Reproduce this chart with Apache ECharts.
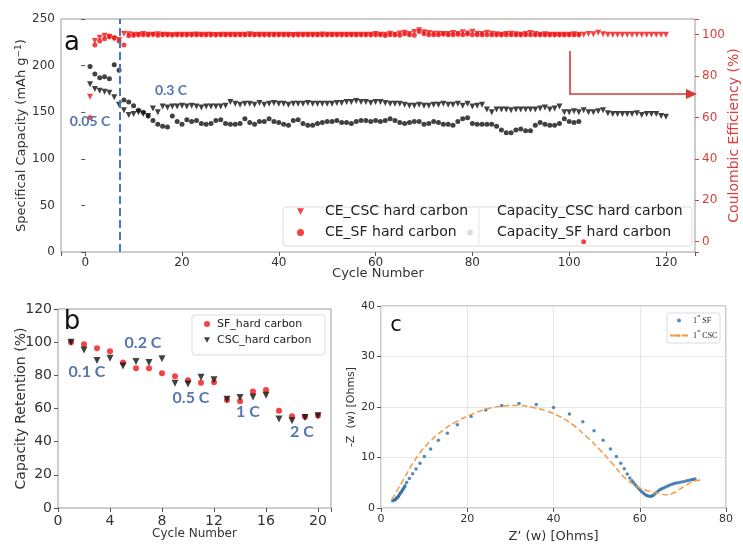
<!DOCTYPE html>
<html>
<head>
<meta charset="utf-8">
<script src="https://cdn.jsdelivr.net/npm/echarts@6/dist/echarts.min.js"></script>
<style>
html,body{margin:0;padding:0;background:#fff;}
#main{width:743px;height:547px;}
</style>
</head>
<body>
<div id="main"></div>
<script>
// ---- panel a: cycling at 0.05 C / 0.3 C (cycle number = index + 1)
var capCSC = [
  180,175,173,172,171,166,158,152,147,148,
  150,148,146,154,150,156,155,156,156,157,
  156,157,156,155,156,156,156,156,157,161,
  159,158,159,159,158,160,158,159,160,159,
  159,158,159,159,159,160,159,159,159,159,
  159,160,160,161,161,162,161,161,160,161,
  161,160,159,159,159,158,157,157,158,157,
  157,158,158,159,158,158,159,157,159,156,
  157,158,153,150,153,153,153,152,153,153,
  153,153,153,154,155,153,154,156,150,150,
  151,150,152,150,150,151,152,149,148,148,
  148,148,148,149,147,148,148,148,146,145
];
var capSF = [
  199,191,187,188,186,201,195,163,161,157,
  152,150,146,141,137,135,134,146,140,137,
  142,140,141,138,137,138,141,142,138,137,
  137,138,143,139,137,140,140,143,140,139,
  137,136,141,142,138,136,136,138,139,140,
  140,141,139,139,138,140,141,141,140,141,
  140,141,143,141,139,138,139,140,140,137,
  138,140,139,137,137,136,140,143,144,138,
  137,137,137,137,135,131,128,128,131,132,
  130,130,136,139,137,136,136,138,143,140,
  139,140
];
var ceCSC = [
  70,97,98.5,99.5,99,98,97.5,100.5,100.2,100,
  100,100.3,100,100,100.2,100,100,99.8,100,100,
  100,100,100.1,100,100,100,99.9,100,100,100,
  100,100,100,100.2,100,100,100,100,100,100,
  100,100,99.9,100,100,100,100,100,100.1,100,
  100,100,100,100,100,100,100,100,100,100.4,
  100,100,100.5,100,100.6,101,100.4,101.3,102.2,101.2,
  100.8,100.5,100.5,100.3,100.3,100.8,100.4,101.2,100.6,101.4,
  100.5,100.3,101,100.5,100.2,100,100.3,100.5,100.2,100,
  100.4,100.8,100.3,100,100.2,100,100,100,100,100,
  100.2,100,100,100.4,100.2,101,100.2,100,100,100,
  100,100,100,100,100,100,100,100,100,100
];
var ceSF = [
  60,95,97,98,99,98.5,97,95,99.5,99.8,
  100,100,100,100.2,99.8,100,100,100,100,100,
  100,100,100,100,100,100,100,100,100,100,
  100,100,100,100,100,100,100,100,100,100,
  100,100,100,100,100,100,100,100,100,100,
  100,100,100,100,100,100,100,100,100,100,
  100,99.6,100,100,99.8,100.5,100,99.8,101.5,100.5,
  100,100,100,100.3,100,100,100.2,100,100.4,100,
  100,100,100,100,100,100,100,100,100,100,
  100,100,100,100,100,100,100,100,100,100,
  100,100,0
];
var xTicksA = [0, 20, 40, 60, 80, 100, 120];
var ceTicks = [0, 20, 40, 60, 80, 100];

// ---- panel b: rate capability
var retCycles = [1,2,3,4,5,6,7,8,9,10,11,12,13,14,15,16,17,18,19,20];
var retSF  = [100,98.7,96.3,94.5,87.7,84.3,84.3,81.3,79.5,77,75.5,75.9,65.2,64.4,70.2,71.2,58.6,55.4,55,55.8];
var retCSC = [100,95.3,88.9,90.3,85.7,88.3,87.7,90,75.3,74.7,78.9,77.3,65.6,66.6,67,68,53.6,52.6,54.6,55.6];
var xTicksB = [0, 4, 8, 12, 16, 20];

// ---- panel c: Nyquist plot
var sfRe = [2.7,3.0,3.25,3.45,3.63,3.82,4.02,4.2,4.4,4.6,4.79,5.0,5.18,5.4,5.56,5.95,6.57,7.34,8.11,9.04,
  10.05,11.5,13.3,15.4,17.7,20.9,24.3,28.0,32.0,36.0,40.0,43.7,46.8,49.4,51.5,53.2,54.6,55.6,56.4,57.1,
  57.7,58.2,58.5,58.9,59.3,59.7,60.0,60.4,60.8,61.2,61.6,62.0,62.4,62.8,63.1,63.5,63.9,64.3,64.7,65.1,
  65.5,66.0,66.5,67.0,67.5,68.0,68.5,69.1,69.7,70.3,70.9,71.4,72.0,72.4,72.8];
var sfIm = [1.45,1.55,1.64,1.8,1.97,2.12,2.3,2.55,2.83,3.05,3.29,3.55,3.82,4.1,4.41,5.07,5.86,6.78,7.7,8.88,
  10.2,11.7,13.4,14.8,16.5,18.1,19.4,20.3,20.7,20.5,19.9,18.6,17.1,15.3,13.4,11.7,10.2,8.88,7.76,6.71,
  5.92,5.4,5.07,4.65,4.28,3.9,3.62,3.25,2.96,2.7,2.5,2.38,2.3,2.38,2.5,2.78,3.09,3.35,3.62,3.8,
  3.95,4.15,4.35,4.55,4.72,4.85,4.93,5.05,5.13,5.25,5.39,5.5,5.59,5.65,5.72];
var cscRe = [2.5,3.6,5.2,6.7,9.0,11.4,14.5,17.5,20.6,24.5,28.4,32.2,35.3,38.4,41.5,44.6,47.7,50.8,53.9,56.2,
  58.1,60.0,62.4,64.7,66.2,67.8,69.3,70.9,72.4,74.3];
var cscIm = [1.64,3.3,5.6,7.9,10.9,13.2,15.5,17.1,18.4,19.6,20.2,20.3,19.9,19.2,18.1,16.4,14.1,11.5,8.55,6.25,
  4.93,3.95,3.29,2.83,2.63,2.96,3.75,4.61,5.26,5.59];

var FONT = 'DejaVu Sans';
var RED = '#f01414';
var AXRED = '#d9413f';
var NOTE = '#5675b4';
var DOWN = 'path://M0,0L10,0L5,9Z';   // downward triangle for legends

function byCycle(vals) { return vals.map(function (v, i) { return [i + 1, v]; }); }
function zip(a, b) { return a.map(function (v, i) { return [v, b[i]]; }); }
function only(ticks) { return function (v) { return ticks.indexOf(Math.round(v * 1000) / 1000) >= 0 ? String(v) : ''; }; }

function axisBase(size, color) {
    return {
        axisLine: { show: false },
        axisTick: { show: true, length: 4, lineStyle: { color: '#555' } },
        axisLabel: { fontFamily: FONT, fontSize: size, color: color || '#333', margin: 6 },
        splitLine: { show: false },
        nameLocation: 'middle',
        nameMoveOverlap: false,
        nameTextStyle: { fontFamily: FONT, fontSize: size + 1, color: color || '#333' }
    };
}
function ax(extra, size, color) {
    var o = axisBase(size, color);
    for (var k in extra) {
        if (typeof extra[k] === 'object' && o[k] && !Array.isArray(extra[k])) {
            o[k] = Object.assign({}, o[k], extra[k]);
        } else { o[k] = extra[k]; }
    }
    return o;
}

var myChart = echarts.init(document.getElementById('main'), null, { renderer: 'canvas' });

var gridBox = { show: true, borderColor: '#9a9a9a', borderWidth: 1, backgroundColor: 'transparent',
                containLabel: false, outerBoundsMode: 'none' };

var option = {
    backgroundColor: '#fff',
    animation: false,
    grid: [
        Object.assign({ left: 61, top: 19, width: 634, height: 233 }, gridBox),
        Object.assign({ left: 58, top: 309, width: 273, height: 199 }, gridBox),
        Object.assign({ left: 381, top: 306, width: 345, height: 202 }, gridBox)
    ],
    xAxis: [
        ax({ gridIndex: 0, type: 'value', min: -5, max: 126, splitNumber: 7, name: 'Cycle Number', nameGap: 15,
             axisLabel: { formatter: only(xTicksA), margin: 5 }, nameTextStyle: { fontSize: 13 } }, 12),
        ax({ gridIndex: 1, type: 'value', min: 0, max: 21, interval: 4, name: 'Cycle Number', nameGap: 20,
             axisLabel: { formatter: only(xTicksB) }, nameTextStyle: { fontSize: 12 } }, 14),
        ax({ gridIndex: 2, type: 'value', min: 0, max: 80, interval: 20, name: 'Z\u2019 (w) [Ohms]', nameGap: 22,
             splitLine: { show: true, lineStyle: { color: '#e6e6e6' } }, nameTextStyle: { fontSize: 13 } }, 11)
    ],
    yAxis: [
        ax({ gridIndex: 0, type: 'value', min: 0, max: 250, interval: 50, nameGap: 31,
             name: 'Specifical Capacity (mAh g{sup|\u22121})',
             nameTextStyle: { fontSize: 13, rich: { sup: { fontFamily: FONT, fontSize: 9, color: '#333', verticalAlign: 'top', padding: [0, 0, 7, 0] } } } }, 12),
        ax({ gridIndex: 0, type: 'value', position: 'right', min: -5, max: 107.6, splitNumber: 6, nameGap: 32,
             name: 'Coulombic Efficiency (%)', nameRotate: 90,
             axisTick: { lineStyle: { color: AXRED } },
             axisLabel: { formatter: only(ceTicks), margin: 7 },
             nameTextStyle: { fontSize: 14, color: AXRED } }, 12, AXRED),
        ax({ gridIndex: 1, type: 'value', min: 0, max: 120, interval: 20, nameGap: 30,
             name: 'Capacity Retention (%)', nameTextStyle: { fontSize: 14 } }, 14),
        ax({ gridIndex: 2, type: 'value', min: 0, max: 40, interval: 10, nameGap: 24,
             name: '-Z  (w) [Ohms]', splitLine: { show: true, lineStyle: { color: '#e6e6e6' } },
             nameTextStyle: { fontSize: 11 } }, 11)
    ],
    legend: [
        { data: [{ name: 'CE_CSC hard carbon', icon: DOWN }, { name: 'CE_SF hard carbon', icon: 'circle' }],
          orient: 'vertical', left: 297, top: 201,
          itemWidth: 7, itemHeight: 7, itemGap: 0, padding: 0, selectedMode: false,
          textStyle: { fontFamily: FONT, fontSize: 14, color: '#222', lineHeight: 21, padding: [0, 0, 0, 16] } },
        { data: [{ name: 'Capacity_CSC hard carbon', icon: 'circle', itemStyle: { color: '#fff' } },
                 { name: 'Capacity_SF hard carbon', icon: 'circle', itemStyle: { color: '#d4d4d4' } }],
          orient: 'vertical', left: 467, top: 201,
          itemWidth: 6, itemHeight: 6, itemGap: 0, padding: 0, selectedMode: false,
          textStyle: { fontFamily: FONT, fontSize: 14, color: '#222', lineHeight: 21, padding: [0, 0, 0, 19] } },
        { data: [{ name: 'SF_hard carbon', icon: 'circle' }, { name: 'CSC_hard carbon', icon: DOWN }],
          orient: 'vertical', left: 204, top: 316,
          itemWidth: 6, itemHeight: 6, itemGap: 0, padding: 0, selectedMode: false,
          textStyle: { fontFamily: FONT, fontSize: 11, color: '#222', lineHeight: 16, padding: [0, 0, 0, 2] } },
        { data: ['1st SF', '1st CSC'], orient: 'vertical', left: 669, top: 313,
          itemWidth: 18, itemHeight: 4, itemGap: 0, padding: 0, selectedMode: false,
          formatter: function (n) { return n.replace('1st', '1{s|st}'); },
          textStyle: { fontFamily: 'Liberation Serif', fontSize: 8, color: '#222', lineHeight: 15,
                       rich: { s: { fontFamily: 'Liberation Serif', fontSize: 5, verticalAlign: 'top', padding: [0, 0, 3, 0] } } } }
    ],
    series: [
        { name: 'Capacity_SF hard carbon', type: 'scatter', xAxisIndex: 0, yAxisIndex: 0, data: byCycle(capSF),
          symbol: 'circle', symbolSize: 5, itemStyle: { color: '#111' },
          markLine: { silent: true, symbol: 'none', label: { show: false },
                      lineStyle: { color: '#4a74c0', type: 'dashed', width: 2 }, data: [{ xAxis: 7.2 }] } },
        { name: 'Capacity_CSC hard carbon', type: 'scatter', xAxisIndex: 0, yAxisIndex: 0, data: byCycle(capCSC),
          symbol: 'triangle', symbolRotate: 180, symbolSize: 6, itemStyle: { color: '#111' } },
        { name: 'CE_SF hard carbon', type: 'scatter', xAxisIndex: 0, yAxisIndex: 1, data: byCycle(ceSF),
          symbol: 'circle', symbolSize: 5, itemStyle: { color: RED } },
        { name: 'CE_CSC hard carbon', type: 'scatter', xAxisIndex: 0, yAxisIndex: 1, data: byCycle(ceCSC),
          symbol: 'triangle', symbolRotate: 180, symbolSize: 6, itemStyle: { color: RED } },

        { name: 'SF_hard carbon', type: 'scatter', xAxisIndex: 1, yAxisIndex: 2, data: zip(retCycles, retSF),
          symbol: 'circle', symbolSize: 6, itemStyle: { color: RED } },
        { name: 'CSC_hard carbon', type: 'scatter', xAxisIndex: 1, yAxisIndex: 2, data: zip(retCycles, retCSC),
          symbol: 'triangle', symbolRotate: 180, symbolSize: 7, itemStyle: { color: '#111' } },

        { name: '1st CSC', type: 'line', xAxisIndex: 2, yAxisIndex: 3, data: zip(cscRe, cscIm),
          smooth: 0.4, symbol: 'none', lineStyle: { color: '#f29a44', type: 'dashed', width: 1.5 },
          itemStyle: { color: '#f29a44' } },
        { name: '1st SF', type: 'scatter', xAxisIndex: 2, yAxisIndex: 3, data: zip(sfRe, sfIm),
          symbol: 'circle', symbolSize: 3.5, itemStyle: { color: '#2b6ea8' } }
    ],
    graphic: [
        { type: 'rect', z: 0, shape: { x: 283, y: 207, width: 409, height: 39, r: 3 },
          style: { fill: 'rgba(255,255,255,0.85)', stroke: '#dcdcdc', lineWidth: 1 } },
        { type: 'line', z: 0, shape: { x1: 479, y1: 208, x2: 479, y2: 245 }, style: { stroke: '#e4e4e4', lineWidth: 1 } },
        { type: 'rect', z: 0, shape: { x: 192, y: 315, width: 133, height: 40, r: 3 },
          style: { fill: '#fff', stroke: '#dcdcdc', lineWidth: 1 } },
        { type: 'rect', z: 0, shape: { x: 667, y: 313, width: 53, height: 30, r: 2 },
          style: { fill: '#fff', stroke: '#dcdcdc', lineWidth: 1 } },

        { type: 'text', z: 10, x: 72, y: 43, style: { text: 'a', font: '26px "DejaVu Sans"', fill: '#111', textAlign: 'center', textVerticalAlign: 'middle' } },
        { type: 'text', z: 10, x: 72, y: 322, style: { text: 'b', font: '26px "DejaVu Sans"', fill: '#111', textAlign: 'center', textVerticalAlign: 'middle' } },
        { type: 'text', z: 10, x: 396, y: 326, style: { text: 'c', font: '21px "DejaVu Sans"', fill: '#111', textAlign: 'center', textVerticalAlign: 'middle' } },

        { type: 'text', z: 10, x: 90, y: 121, style: { text: '0.05 C', font: 'bold 14px Lato', fill: NOTE, textAlign: 'center', textVerticalAlign: 'middle' } },
        { type: 'text', z: 10, x: 171, y: 90, style: { text: '0.3 C', font: 'bold 14px Lato', fill: NOTE, textAlign: 'center', textVerticalAlign: 'middle' } },
        { type: 'text', z: 10, x: 87, y: 372, style: { text: '0.1 C', font: 'bold 16px Lato', fill: NOTE, textAlign: 'center', textVerticalAlign: 'middle' } },
        { type: 'text', z: 10, x: 143, y: 343, style: { text: '0.2 C', font: 'bold 16px Lato', fill: NOTE, textAlign: 'center', textVerticalAlign: 'middle' } },
        { type: 'text', z: 10, x: 191, y: 398, style: { text: '0.5 C', font: 'bold 16px Lato', fill: NOTE, textAlign: 'center', textVerticalAlign: 'middle' } },
        { type: 'text', z: 10, x: 248, y: 412, style: { text: '1 C', font: 'bold 16px Lato', fill: NOTE, textAlign: 'center', textVerticalAlign: 'middle' } },
        { type: 'text', z: 10, x: 302, y: 432, style: { text: '2 C', font: 'bold 16px Lato', fill: NOTE, textAlign: 'center', textVerticalAlign: 'middle' } },

        { type: 'polyline', z: 10, shape: { points: [[570, 51], [570, 94], [688, 94]] },
          style: { stroke: '#d63a36', lineWidth: 1.6, fill: null } },
        { type: 'polygon', z: 10, shape: { points: [[686, 89], [697, 94], [686, 99]] },
          style: { fill: '#d63a36' } }
    ]
};

myChart.setOption(option);
</script>
</body>
</html>
